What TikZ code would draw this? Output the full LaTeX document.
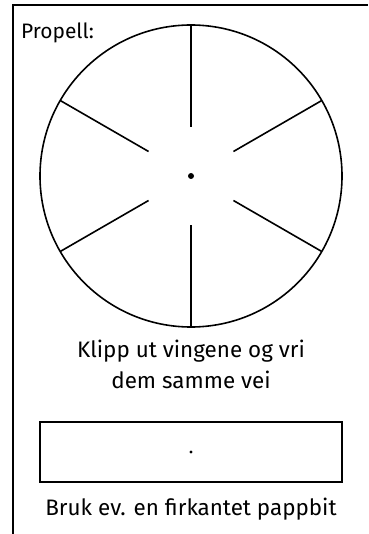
\documentclass[tikz,border=0pt]{standalone}
\usepackage{fontspec}
\setmainfont{Fira Sans}
\usetikzlibrary{calc}
\begin{document}
\begin{tikzpicture}[x=1bp,y=-1bp,
  line/.style={line width=1.6bp, black},
  lbl/.style={font=\fontsize{22.5}{31}\selectfont, align=center, inner sep=0pt}]
\useasboundingbox (0,0) rectangle (368,534);
% frame
\draw[line width=1.3bp] (13,534) -- (13,5) -- (368,5);
\coordinate (c) at (191,176);
\node[lbl, anchor=west, font=\fontsize{21}{26}\selectfont] (title) at (21,33) {Propell:};
\draw[line] (c) circle (151);
\foreach \a in {90,30,150,210,270,330}
  \draw[line] ($(c)+(\a:49)$) -- ($(c)+(\a:151)$);
\fill (c) circle (3);
\node[lbl] (txt) at (191,364) {Klipp ut vingene og vri\\dem samme vei};
\node[draw, line width=1.6bp, minimum width=302bp, minimum height=60bp, inner sep=0pt] (box) at (191,452) {};
\fill (box.center) circle (1.7);
\node[lbl] (txt2) at (191,509) {Bruk ev. en firkantet pappbit};
\end{tikzpicture}
\end{document}
